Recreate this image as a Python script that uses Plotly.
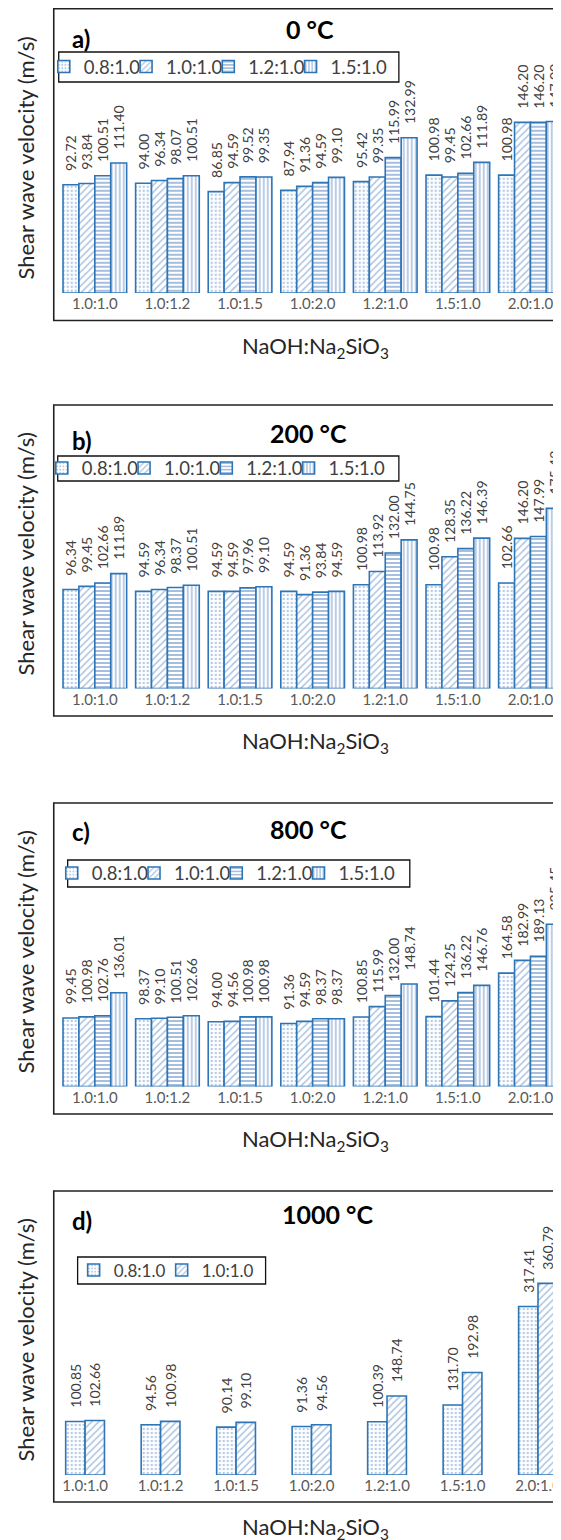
import plotly.graph_objects as go

# The page body has an 8px default margin, so the figure is drawn 8px in.
OFF = 8
W, H = 561 - OFF, 1540 - OFF

categories = ["1.0:1.0", "1.0:1.2", "1.0:1.5", "1.0:2.0", "1.2:1.0", "1.5:1.0", "2.0:1.0"]
series_names = ["0.8:1.0", "1.0:1.0", "1.2:1.0", "1.5:1.0"]

# a) 0 °C
a_08 = [92.72, 94.00, 86.85, 87.94, 95.42, 100.98, 100.98]
a_10 = [93.84, 96.34, 94.59, 91.36, 99.35, 99.45, 146.20]
a_12 = [100.51, 98.07, 99.52, 94.59, 115.99, 102.66, 146.20]
a_15 = [111.40, 100.51, 99.35, 99.10, 132.99, 111.89, 147.00]
# b) 200 °C
b_08 = [96.34, 94.59, 94.59, 94.59, 100.98, 100.98, 102.66]
b_10 = [99.45, 96.34, 94.59, 91.36, 113.92, 128.35, 146.20]
b_12 = [102.66, 98.37, 97.96, 93.84, 132.00, 136.22, 147.99]
b_15 = [111.89, 100.51, 99.10, 94.59, 144.75, 146.39, 175.42]
# c) 800 °C
c_08 = [99.45, 98.37, 94.00, 91.36, 100.85, 101.44, 164.58]
c_10 = [100.98, 99.10, 94.56, 94.59, 115.99, 124.25, 182.99]
c_12 = [102.76, 100.51, 100.98, 98.37, 132.00, 136.22, 189.13]
c_15 = [136.01, 102.66, 100.98, 98.37, 148.74, 146.76, 235.45]
# d) 1000 °C
d_08 = [100.85, 94.56, 90.14, 91.36, 100.39, 131.70, 317.41]
d_10 = [102.66, 100.98, 99.10, 94.56, 148.74, 192.98, 360.79]

panel_letters = ["a)", "b)", "c)", "d)"]
panel_temps = ["0 °C", "200 °C", "800 °C", "1000 °C"]
panel_data = [
    [a_08, a_10, a_12, a_15],
    [b_08, b_10, b_12, b_15],
    [c_08, c_10, c_12, c_15],
    [d_08, d_10],
]

FONT = "Lato"
OUTLINE = "#2e75b6"
patterns = [
    dict(shape=".", fgcolor="#6f97cc", bgcolor="white", size=4, solidity=0.3),
    dict(shape="/", fgcolor="#5a88c4", bgcolor="white", size=5, solidity=0.3),
    dict(shape="-", fgcolor="#3c70b6", bgcolor="white", size=4, solidity=0.45),
    dict(shape="|", fgcolor="#3c70b6", bgcolor="white", size=4, solidity=0.35),
]

# viewport pixel geometry of each panel
geom = [
    dict(T=8.8, B=320.5, base=293.0, scale=1.167, c0=95.3, step=73.0, bw=16.0,
         letter_y=38, title_x=312, title_y=28.5,
         leg_box=(59, 52, 401, 82), leg_text_x=84, leg_pitch=82.7, leg_font=18.5),
    dict(T=405, B=716, base=688.5, scale=1.027, c0=95.3, step=73.0, bw=16.0,
         letter_y=440, title_x=310, title_y=433,
         leg_box=(58, 456, 401, 481), leg_text_x=82, leg_pitch=82.7, leg_font=18.5),
    dict(T=803, B=1114, base=1086.5, scale=0.689, c0=95.3, step=73.0, bw=16.0,
         letter_y=831, title_x=310, title_y=829,
         leg_box=(68, 860, 412, 887), leg_text_x=92, leg_pitch=82.7, leg_font=18.5),
    dict(T=1191, B=1502, base=1475.0, scale=0.531, c0=85.5, step=75.9, bw=19.5,
         letter_y=1220, title_x=329, title_y=1214,
         leg_box=(78, 1257, 267, 1284), leg_text_x=114, leg_pitch=88.5, leg_font=17),
]

LEFT = 54
LABEL_PAD = "\u00a0\u00a0\u00a0"  # lifts the value labels off the bar tops


def px(p):
    return (p - OFF) / W


def py(p):
    return 1 - (p - OFF) / H


fig = go.Figure()
layout = dict(
    width=W, height=H, margin=dict(l=0, r=0, t=0, b=0),
    paper_bgcolor="white", plot_bgcolor="rgba(0,0,0,0)",
    barmode="overlay", font=dict(family=FONT, color="#404040"),
    showlegend=True, shapes=[], annotations=[],
)

leg_count = 0
for p, series in enumerate(panel_data):
    g = geom[p]
    k = "" if p == 0 else str(p + 1)
    n = len(series)
    bw = g["bw"] / g["step"]
    xr = [(LEFT - g["c0"]) / g["step"], (561 - g["c0"]) / g["step"]]
    bx0, by0, bx1, by1 = g["leg_box"]
    for s, vals in enumerate(series):
        leg_count += 1
        lk = "legend" if leg_count == 1 else f"legend{leg_count}"
        offset = (s - n / 2) * bw
        fig.add_trace(go.Bar(
            x=categories, y=vals, name=series_names[s],
            xaxis="x" + k, yaxis="y" + k, legend=lk, showlegend=True,
            width=bw, offset=offset,
            marker=dict(color="white", pattern=patterns[s],
                        line=dict(color=OUTLINE, width=1.6)),
            text=[LABEL_PAD + f"{v:.2f}" for v in vals], textposition="outside",
            textangle=-90, constraintext="none", cliponaxis=False,
            textfont=dict(family=FONT, size=14, color="#404040"),
            hoverinfo="skip",
        ))
        tx = g["leg_text_x"] + s * g["leg_pitch"]
        layout[lk] = dict(
            x=px(tx - 40), y=py((by0 + by1) / 2),
            xanchor="left", yanchor="middle", visible=True,
            orientation="h", borderwidth=0, bgcolor="rgba(0,0,0,0)",
            font=dict(family=FONT, size=g["leg_font"], color="#404040"),
            itemclick=False, itemdoubleclick=False,
        )
    ymax = (g["base"] - g["T"]) / g["scale"]
    layout["xaxis" + k] = dict(
        domain=[px(LEFT), 1], range=xr, anchor="y" + k,
        showline=False, showgrid=False, zeroline=False, ticks="",
        tickfont=dict(family=FONT, size=15, color="#595959"),
        fixedrange=True,
    )
    layout["yaxis" + k] = dict(
        domain=[py(g["base"]), py(g["T"])], range=[0, ymax], anchor="x" + k,
        visible=False, showgrid=False, zeroline=False, fixedrange=True,
    )
    # legend box
    layout["shapes"].append(dict(
        type="rect", xref="paper", yref="paper",
        x0=px(bx0), x1=px(bx1), y0=py(by1), y1=py(by0),
        line=dict(color="#111111", width=1.3), fillcolor="rgba(0,0,0,0)",
        layer="below",
    ))
    # chart box
    layout["shapes"].append(dict(
        type="rect", xref="paper", yref="paper",
        x0=px(LEFT), x1=1.02, y0=py(g["B"]), y1=py(g["T"]),
        line=dict(color="#222222", width=1.6), fillcolor="rgba(0,0,0,0)",
        layer="below",
    ))
    # panel letter
    layout["annotations"].append(dict(
        text="<b>" + panel_letters[p] + "</b>", xref="paper", yref="paper",
        x=px(70), y=py(g["letter_y"]), xanchor="left", yanchor="middle",
        showarrow=False, font=dict(family=FONT, size=24, color="black"),
    ))
    # temperature title
    layout["annotations"].append(dict(
        text="<b>" + panel_temps[p] + "</b>", xref="paper", yref="paper",
        x=px(g["title_x"]), y=py(g["title_y"]), xanchor="center", yanchor="middle",
        showarrow=False, font=dict(family=FONT, size=25, color="black"),
    ))
    # y title
    layout["annotations"].append(dict(
        text="Shear wave velocity (m/s)", xref="paper", yref="paper",
        x=px(26), y=py((g["T"] + g["B"]) / 2 - 7), xanchor="center", yanchor="middle",
        textangle=-90, showarrow=False,
        font=dict(family=FONT, size=22, color="#262626"),
    ))
    # x title
    layout["annotations"].append(dict(
        text="NaOH:Na<sub>2</sub>SiO<sub>3</sub>", xref="paper", yref="paper",
        x=px(317), y=py(g["B"] + 26), xanchor="center", yanchor="middle",
        showarrow=False, font=dict(family=FONT, size=22, color="#262626"),
    ))

fig.update_layout(**layout)
fig.write_html("out.html")
